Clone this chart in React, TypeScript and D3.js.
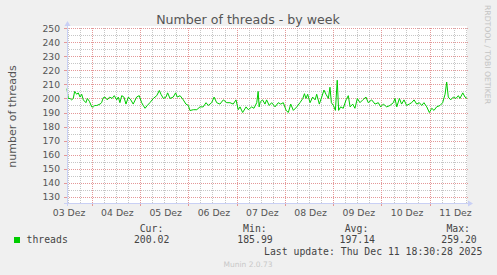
import React from 'react';
import * as d3 from 'd3';

// hours after the window start, and thread counts
const hours = [
  0, 0.6, 1.5, 2.3, 3.1, 3.8, 4.8, 5.6, 6.5, 7.3, 8.1, 9.4, 10.1, 11.1, 12.3, 13.1, 13.8, 14.8,
  16.4, 17.2, 18.0, 18.9, 20.0, 21.2, 22.4, 23.5, 24.7, 25.5, 26.3, 27.2, 28.3, 29.3, 30.5, 31.7,
  32.9, 34.6, 35.9, 37.1, 37.9, 38.8, 39.9, 41.2, 42.9, 44.6, 45.9, 46.7, 47.9, 49.2, 50.0, 51.2,
  52.8, 54.0, 54.8, 56.2, 57.8, 59.1, 60.3, 61.1, 62.8, 64.5, 66.1, 67.7, 69.1, 70.2, 71.9, 73.1,
  74.4, 76.0, 77.7, 79.4, 81.0, 82.6, 84.0, 85.1, 86.0, 87.3, 89.0, 90.1, 91.8, 92.9, 94.3, 95.0,
  95.5, 96.0, 97.2, 98.4, 99.2, 100.5, 101.7, 103.4, 105.0, 106.2, 107.5, 108.9, 110.0, 111.2,
  112.5, 114.2, 115.8, 117.2, 118.0, 118.8, 119.6, 120.8, 122.1, 123.3, 124.1, 125.4, 126.6,
  127.7, 128.7, 129.9, 130.7, 131.4, 132.4, 133.4, 134.3, 135.0, 136.0, 137.3, 138.7, 139.8,
  140.7, 142.0, 143.1, 144.3, 145.6, 147.0, 148.6, 149.7, 151.4, 153.1, 154.7, 155.9, 157.2,
  158.9, 160.5, 162.2, 163.0, 163.9, 165.2, 166.3, 167.5, 168.8, 170.1, 171.3, 172.5, 173.8,
  175.1, 176.3, 177.4, 178.8, 180.1, 181.3, 182.4, 183.7, 185.4, 186.7, 187.9, 188.7, 189.5,
  190.7, 192.0, 193.3, 194.5, 195.3, 196.7, 197.8, 198.8,
];
const threads = [
  207, 200, 200, 199, 200, 205, 203, 204, 201, 203, 199, 197, 200, 198, 194, 194, 195, 195,
  196, 197, 200.5, 201, 199, 201, 200, 202, 199, 201, 197, 202, 201, 196, 201, 199,
  196, 201, 202, 197, 195, 193, 195, 197, 200, 202, 205.7, 203, 200, 201, 204, 200,
  201, 204, 201, 202, 199, 196, 195, 191.4, 192, 192, 194, 194, 197, 195, 197, 201,
  197, 196, 199, 197, 197, 196, 199, 192, 194, 190, 194, 192, 194, 193, 197, 205,
  194, 197.4, 199, 196, 199, 195, 197, 194, 197, 196, 197, 191.5, 190, 196,
  191.5, 194, 197, 200, 203.4, 200, 203, 197, 201, 199, 203, 196, 201,
  206, 203, 200, 208, 197, 195, 191.5, 213, 191.5, 194, 193, 199, 202,
  194, 196, 193, 200, 197, 199, 201, 197, 199, 196, 197, 194, 196,
  194, 195, 197, 200, 194, 200, 196, 199, 195, 196, 197, 199, 196,
  197, 195, 197, 194, 190, 193, 191.5, 194, 195, 197, 203, 211.7, 201,
  199, 201, 200, 202, 200, 204, 201, 200,
];

const yMajorTicks = [130, 140, 150, 160, 170, 180, 190, 200, 210, 220, 230, 240, 250];
const yMinorTicks = [135, 145, 155, 165, 175, 185, 195, 205, 215, 225, 235, 245];
const monthNames = ['Jan', 'Feb', 'Mär', 'Apr', 'Mai', 'Jun', 'Jul', 'Aug', 'Sep', 'Okt', 'Nov', 'Dez'];
const seriesName = 'threads';
const legendHeaders = ['Cur:', 'Min:', 'Avg:', 'Max:'];
const legendValues = ['200.02', '185.99', '197.14', '259.20'];
const titleText = 'Number of threads - by week';
const yTitle = 'number of threads';
const lastUpdate = 'Last update: Thu Dec 11 18:30:28 2025';
const endTime = Date.UTC(2025, 11, 11, 18, 30, 28);
const spanHours = 198.8;

const W = 497;
const H = 275;
const L = 67;
const R = 467;
const TOP = 26;
const BOT = 203;

const GRID = '#c6c6c6';
const MGRID = '#e49898';
const AXIS = '#c9d0f5';
const FONT = '#555555';
const LINE = '#00cc00';

export default function App() {
  const start = new Date(endTime - spanHours * 3600e3);
  const end = new Date(endTime);
  const x = d3.scaleUtc().domain([start, end]).range([L, R]);
  const y = d3.scaleLinear().domain([130, 250]).range([196.7, 28.3]);

  const pts = hours.map((h, i) => ({ t: new Date(start.getTime() + h * 3600e3), v: threads[i] }));
  const line = d3
    .line<{ t: Date; v: number }>()
    .x((d) => x(d.t))
    .y((d) => y(d.v));

  const days = d3.utcDay.range(start, end);
  const sixHours = d3.utcHour
    .range(start, end)
    .filter((d) => d.getUTCHours() % 6 === 0 && d.getUTCHours() !== 0);
  const labelDays = d3.utcDay
    .range(d3.utcDay.floor(start), end)
    .map((d) => new Date(d.getTime() + 12 * 3600e3))
    .filter((d) => d >= start && d <= end);
  const fmtDay = d3.utcFormat('%d');

  const sans = "'DejaVu Sans', sans-serif";
  const mono = "'DejaVu Sans Mono', monospace";
  const yTop = Math.round(y(250));

  const headerEnds = [163.3, 266.7, 368.3, 470];
  const valueEnds = [169.3, 272.7, 375, 476.7];
  const px = (v: number) => Math.round(v) + 0.5;

  return (
    <svg
      width={W}
      height={H}
      style={{ position: 'absolute', left: 0, top: 0, display: 'block' }}
      xmlns="http://www.w3.org/2000/svg"
    >
      <rect x={0} y={0} width={W} height={H} fill="#f0f0f0" />
      <rect x={L} y={TOP} width={R - L} height={BOT - TOP} fill="#ffffff" />

      {/* minor grid */}
      <g stroke={GRID} strokeWidth={1} strokeDasharray="1,1" shapeRendering="crispEdges">
        {yMinorTicks.map((v) => (
          <line key={'hm' + v} x1={L} x2={R} y1={px(y(v))} y2={px(y(v))} />
        ))}
        {sixHours.map((d) => (
          <line key={'vm' + d.getTime()} x1={px(x(d))} x2={px(x(d))} y1={yTop} y2={BOT} />
        ))}
      </g>
      {/* major grid */}
      <g stroke={MGRID} strokeWidth={1} strokeDasharray="1,1" shapeRendering="crispEdges">
        {yMajorTicks.map((v) => (
          <line key={'hM' + v} x1={L} x2={R + 2} y1={px(y(v))} y2={px(y(v))} />
        ))}
        {days.map((d) => (
          <line key={'vM' + d.getTime()} x1={px(x(d))} x2={px(x(d))} y1={yTop} y2={BOT} />
        ))}
      </g>
      {/* tick marks */}
      <g stroke={MGRID} strokeWidth={1} shapeRendering="crispEdges">
        {yMajorTicks.map((v) => (
          <line key={'tl' + v} x1={L - 3} x2={L} y1={px(y(v))} y2={px(y(v))} />
        ))}
        {days.map((d) => (
          <line key={'tb' + d.getTime()} x1={px(x(d))} x2={px(x(d))} y1={BOT} y2={BOT + 3} />
        ))}
      </g>

      {/* data */}
      <path d={line(pts) || ''} fill="none" stroke={LINE} strokeWidth={1} strokeLinejoin="round" />

      {/* axes */}
      <g shapeRendering="crispEdges">
        <line x1={L - 3} x2={R + 3} y1={BOT + 0.5} y2={BOT + 0.5} stroke={AXIS} strokeWidth={1} />
        <line x1={L + 0.5} x2={L + 0.5} y1={TOP} y2={BOT + 3} stroke={AXIS} strokeWidth={1} />
      </g>
      <polygon points={`${R + 1},${BOT - 2.5} ${R + 6},${BOT + 0.5} ${R + 1},${BOT + 3.5}`} fill={AXIS} />
      <polygon points={`${L - 2.5},${TOP} ${L + 0.5},${TOP - 5} ${L + 3.5},${TOP}`} fill={AXIS} />

      {/* y tick labels */}
      <g fontFamily={sans} fontSize={9.2} fill={FONT} textAnchor="end">
        {yMajorTicks.map((v) => (
          <text key={'yl' + v} x={60} y={y(v) + 3.3}>
            {v}
          </text>
        ))}
      </g>
      {/* x tick labels */}
      <g fontFamily={sans} fontSize={9.3} fill={FONT} textAnchor="middle">
        {labelDays.map((d) => (
          <text key={'xl' + d.getTime()} x={x(d) + 1.5} y={215.5}>
            {fmtDay(d) + ' ' + monthNames[d.getUTCMonth()]}
          </text>
        ))}
      </g>

      {/* title */}
      <text x={248} y={23.5} fontFamily={sans} fontSize={12.6} fill={FONT} textAnchor="middle">
        {titleText}
      </text>
      {/* y title */}
      <text
        transform={`translate(15.5, ${(TOP + BOT) / 2 + 2}) rotate(-90)`}
        fontFamily={sans}
        fontSize={11}
        fill={FONT}
        textAnchor="middle"
      >
        {yTitle}
      </text>
      {/* watermark */}
      <text transform="translate(485, 5) rotate(90)" fontFamily={sans} fontSize={7.7} fill="#c4c4c4">
        RRDTOOL / TOBI OETIKER
      </text>

      {/* legend */}
      <g fontFamily={mono} fontSize={9.8} fill="#444444">
        {legendHeaders.map((h, i) => (
          <text key={'lh' + h} x={headerEnds[i]} y={231.5} textAnchor="end">
            {h}
          </text>
        ))}
        <rect x={14} y={237} width={6} height={6} fill={LINE} />
        <text x={26.5} y={243}>
          {seriesName}
        </text>
        {legendValues.map((v, i) => (
          <text key={'lv' + i} x={valueEnds[i]} y={243} textAnchor="end">
            {v}
          </text>
        ))}
        <text x={482.3} y={255} textAnchor="end">
          {lastUpdate}
        </text>
      </g>
      <text x={248} y={266.5} fontFamily={sans} fontSize={7.5} fill="#c8c8c8" textAnchor="middle">
        Munin 2.0.73
      </text>
    </svg>
  );
}
